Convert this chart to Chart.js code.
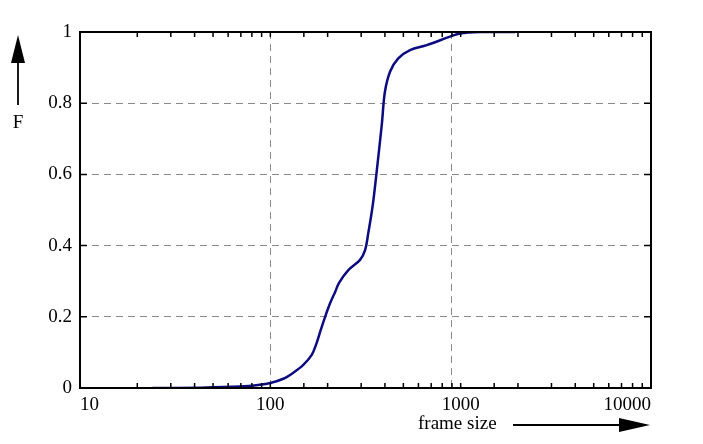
<!DOCTYPE html>
<html>
<head>
<meta charset="utf-8">
<script src="https://cdn.jsdelivr.net/npm/chart.js@4/dist/chart.umd.min.js"></script>
<style>
  html, body { margin: 0; padding: 0; background: #fff; }
  #wrap { width: 703px; height: 444px; position: relative; }
</style>
</head>
<body>
<div id="wrap"><canvas id="cdf" width="703" height="444"></canvas></div>
<script>
// cumulative distribution of frame sizes
const frameSizes = [24, 43, 69, 88, 100, 117, 132, 149, 165, 175, 184, 194, 206, 219, 230, 257, 296, 315, 327, 338, 348, 362, 385, 400, 426, 470, 542, 663, 879, 992, 1264, 1930];
const cdfValues  = [0, 0.001, 0.004, 0.009, 0.014, 0.026, 0.043, 0.065, 0.093, 0.126, 0.163, 0.200, 0.238, 0.270, 0.296, 0.331, 0.360, 0.388, 0.435, 0.481, 0.528, 0.608, 0.739, 0.832, 0.889, 0.926, 0.949, 0.963, 0.987, 0.996, 1.0, 1.0];

const xLabels = ["10", "100", "1000", "10000"];
const yLabels = ["0", "0.2", "0.4", "0.6", "0.8", "1"];
// the reference draws its dashed x grid at these two ticks
const xGridAt = [100, 900];
const xTitle = "frame size";
const yTitle = "F";

const FONT = "'Liberation Serif', 'DejaVu Serif', serif";

function isDecade(v) {
    const l = Math.log10(v);
    return Math.abs(l - Math.round(l)) < 1e-6;
}

// frame, inward tick marks and the two arrow labels
const decoPlugin = {
    id: "deco",
    afterDraw(chart) {
        const ctx = chart.ctx;
        const a = chart.chartArea;
        const xs = chart.scales.x;
        const ys = chart.scales.y;
        ctx.save();
        ctx.strokeStyle = "#000";
        ctx.lineWidth = 1.5;
        ctx.beginPath();
        xs.ticks.forEach(t => {
            const px = xs.getPixelForValue(t.value);
            if (px <= a.left + 1 || px >= a.right - 1) return;
            ctx.moveTo(px, a.bottom); ctx.lineTo(px, a.bottom - 5);
            ctx.moveTo(px, a.top); ctx.lineTo(px, a.top + 5);
        });
        ys.ticks.forEach(t => {
            const py = ys.getPixelForValue(t.value);
            if (py <= a.top + 1 || py >= a.bottom - 1) return;
            ctx.moveTo(a.left, py); ctx.lineTo(a.left + 7, py);
            ctx.moveTo(a.right, py); ctx.lineTo(a.right - 7, py);
        });
        ctx.stroke();

        ctx.lineWidth = 2;
        ctx.strokeRect(a.left, a.top, a.right - a.left, a.bottom - a.top);

        // y arrow + F
        ctx.fillStyle = "#000";
        ctx.lineWidth = 1.8;
        ctx.beginPath();
        ctx.moveTo(18, 105); ctx.lineTo(18, 60);
        ctx.stroke();
        ctx.beginPath();
        ctx.moveTo(18, 35); ctx.lineTo(25, 63); ctx.lineTo(11, 63); ctx.closePath();
        ctx.fill();
        ctx.font = "19px " + FONT;
        ctx.textAlign = "center";
        ctx.textBaseline = "middle";
        ctx.fillText(yTitle, 18, 123);

        // x arrow + frame size
        ctx.textAlign = "left";
        ctx.fillText(xTitle, 418, 424);
        ctx.beginPath();
        ctx.moveTo(513, 425); ctx.lineTo(625, 425);
        ctx.stroke();
        ctx.beginPath();
        ctx.moveTo(650, 425); ctx.lineTo(619, 418); ctx.lineTo(619, 432); ctx.closePath();
        ctx.fill();
        ctx.restore();
    }
};

new Chart(document.getElementById("cdf"), {
    type: "line",
    data: {
        datasets: [{
            data: frameSizes.map((v, i) => ({ x: v, y: cdfValues[i] })),
            borderColor: "#0c0c80",
            borderWidth: 2.5,
            pointRadius: 0,
            fill: false,
            tension: 0.35
        }]
    },
    options: {
        responsive: false,
        animation: false,
        devicePixelRatio: 1,
        layout: { autoPadding: false, padding: { left: 0, right: 52, top: 32, bottom: 0 } },
        plugins: { legend: { display: false }, tooltip: { enabled: false } },
        scales: {
            x: {
                type: "logarithmic",
                min: 10,
                max: 10000,
                afterFit(s) { s.height = 56; },
                border: { display: false, dash: [7, 5] },
                grid: {
                    drawTicks: false,
                    lineWidth: 1,
                    color: c => (c.tick && xGridAt.includes(Math.round(c.tick.value))) ? "#8a8a8a" : "rgba(0,0,0,0)"
                },
                ticks: {
                    autoSkip: false,
                    maxRotation: 0,
                    align: "inner",
                    padding: 6,
                    color: "#000",
                    font: { family: FONT, size: 19 },
                    callback: v => isDecade(v) && xLabels.includes(String(Math.round(v))) ? String(Math.round(v)) : ""
                }
            },
            y: {
                min: 0,
                max: 1,
                afterFit(s) { s.width = 80; },
                border: { display: false, dash: [7, 5] },
                grid: {
                    drawTicks: false,
                    lineWidth: 1,
                    color: c => (c.tick && c.tick.value > 0.01 && c.tick.value < 0.99) ? "#8a8a8a" : "rgba(0,0,0,0)"
                },
                ticks: {
                    stepSize: 0.2,
                    autoSkip: false,
                    padding: 8,
                    color: "#000",
                    font: { family: FONT, size: 19 },
                    callback: (v, i) => yLabels[i]
                }
            }
        }
    },
    plugins: [decoPlugin]
});
</script>
</body>
</html>
